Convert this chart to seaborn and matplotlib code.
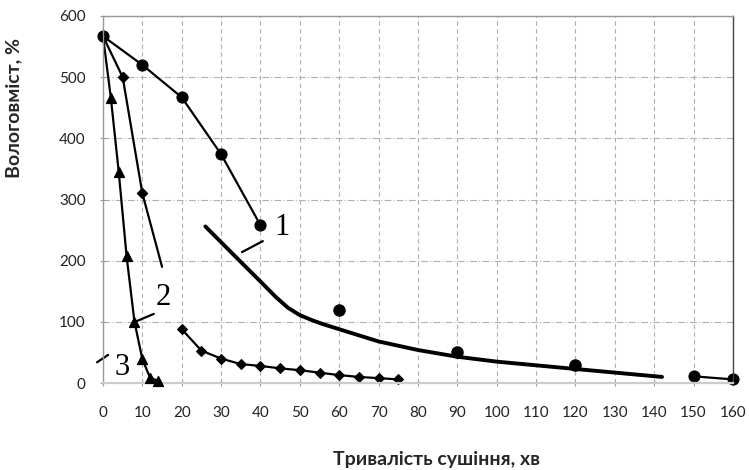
import matplotlib
matplotlib.use("Agg")
import matplotlib.pyplot as plt
import numpy as np
import pandas as pd
import seaborn as sns

# --- data ---
# series 1 (circles), first segment
c1_x = [0, 10, 20, 30, 40]
c1_y = [567, 520, 467, 374, 258]
# series 1, separate points and last segment
c1_pts_x = [60, 90, 120]
c1_pts_y = [119, 50, 29]
c1_end_x = [150, 160]
c1_end_y = [11, 6]
# calculated curve (thick line)
calc_x = [26, 35, 40, 44, 47, 50, 53, 56, 60, 70, 80, 90, 100, 120, 142]
calc_y = [256, 198, 166, 140, 123, 111, 103, 96, 88, 68, 54, 43, 35, 23, 10]

# series 2 (diamonds)
d1_x = [0, 5, 10, 15]
d1_y = [567, 500, 310, 190]
d2_x = [20, 25, 30, 35, 40, 45, 50, 55, 60, 65, 70, 75]
d2_y = [88, 53, 40, 31, 28, 24, 21, 17, 13, 10, 8, 6]

# series 3 (triangles)
t_x = [0, 2, 4, 6, 8, 10, 12, 14]
t_y = [567, 466, 345, 207, 100, 39, 8, 4]

x_ticks = list(range(0, 161, 10))
y_ticks = list(range(0, 601, 100))

sns.set_style("white")
plt.rcParams["font.family"] = ["Lato", "DejaVu Sans"]

fig = plt.figure(figsize=(7.49, 4.70), dpi=100)
ax = fig.add_axes([0.1375, 0.185, 0.841, 0.781])

lw = 1.6
# triangles
sns.lineplot(x=t_x, y=t_y, sort=False, color="black", lw=lw, ax=ax)
ax.scatter(t_x[1:], t_y[1:], marker="^", s=50, color="black", zorder=4)

# diamonds
sns.lineplot(x=d1_x, y=d1_y, sort=False, color="black", lw=lw, ax=ax)
ax.scatter(d1_x[1:3], d1_y[1:3], marker="D", s=26, color="black", zorder=4)
sns.lineplot(x=d2_x, y=d2_y, sort=False, color="black", lw=lw, ax=ax,
             marker="D", markersize=5.5, markeredgecolor="black")

# circles
sns.lineplot(x=c1_x, y=c1_y, sort=False, color="black", lw=lw, ax=ax,
             marker="o", markersize=8, markeredgecolor="black")
ax.scatter(c1_pts_x, c1_pts_y, marker="o", s=64, color="black", zorder=4)
sns.lineplot(x=c1_end_x, y=c1_end_y, sort=False, color="black", lw=lw, ax=ax,
             marker="o", markersize=8, markeredgecolor="black")

# calculated curve
sns.lineplot(x=calc_x, y=calc_y, sort=False, color="black", lw=2.8, ax=ax)

for ln in ax.lines:
    ln.set_clip_on(False)
    ln.set_solid_joinstyle("round")
for c in ax.collections:
    c.set_clip_on(False)

# number labels with leader lines
serif = dict(family="Liberation Serif", fontsize=22, color="black",
             ha="center", va="center")
ax.plot([35.3, 40.6], [214, 232], color="black", lw=1.6)
ax.text(45.4, 255, "1", **serif)
ax.plot([8.1, 12.9], [100, 113], color="black", lw=1.6)
ax.text(15.2, 140, "2", **serif)
ax.plot([-1.5, 1.3], [34, 46], color="black", lw=1.6, clip_on=False)
ax.text(4.8, 26, "3", **serif)

ax.set_xlim(0, 160)
ax.set_ylim(0, 600)
ax.set_xticks(x_ticks)
ax.set_yticks(y_ticks)
ax.tick_params(axis="x", length=5, width=0.8, color="#999999", pad=14,
               labelsize=11, labelcolor="#222222", direction="inout")
ax.tick_params(axis="y", length=5, width=0.8, color="#999999", pad=10,
               labelsize=11, labelcolor="#222222", direction="inout")
ax.tick_params(left=True, bottom=True)

ax.xaxis.grid(True, color="#b0b0b0", lw=0.8, linestyle=(0, (4, 3)))
ax.yaxis.grid(True, color="#b0b0b0", lw=0.8, linestyle=(0, (6, 2, 1, 2)))
ax.set_axisbelow(True)

for s in ["left", "top"]:
    ax.spines[s].set_color("#999999")
    ax.spines[s].set_linewidth(1.0)
ax.spines["bottom"].set_color("#cccccc")
ax.spines["bottom"].set_linewidth(1.6)
ax.spines["right"].set_color("#444444")
ax.spines["right"].set_linewidth(1.0)

ax.set_xlabel("Тривалість сушіння, хв", fontsize=14, fontweight="bold")
ax.set_ylabel("Вологовміст, %", fontsize=14, fontweight="bold")
ax.xaxis.set_label_coords(0.53, -0.185)
ax.yaxis.set_label_coords(-0.128, 0.75)

fig.savefig("out.png", dpi=100)
